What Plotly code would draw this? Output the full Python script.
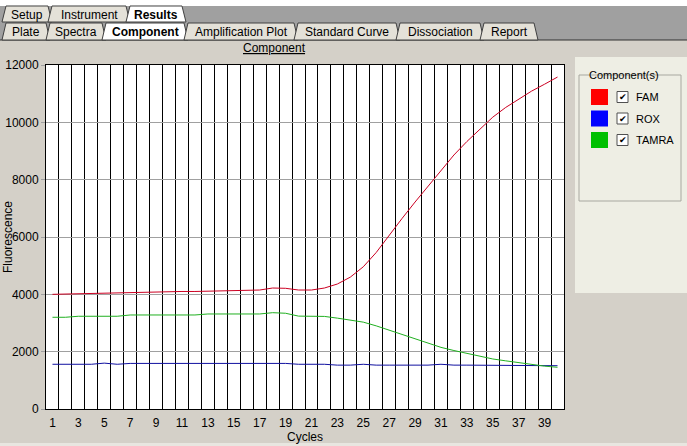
import plotly.graph_objects as go

# cycle numbers and component fluorescence
cycles = list(range(1, 41))
fam = [4000, 4010, 4030, 4040, 4040, 4050, 4070, 4070, 4100, 4100,
       4100, 4100, 4110, 4110, 4140, 4140, 4150, 4220, 4210, 4150,
       4150, 4220, 4360, 4600, 4960, 5460, 6070, 6650, 7220, 7770,
       8320, 8860, 9330, 9770, 10180, 10520, 10810, 11090, 11330, 11580]
rox = [1560, 1560, 1560, 1560, 1600, 1560, 1590, 1590, 1590, 1590,
       1590, 1590, 1590, 1590, 1590, 1590, 1590, 1590, 1590, 1560,
       1560, 1560, 1530, 1530, 1560, 1530, 1530, 1530, 1530, 1530,
       1560, 1530, 1530, 1530, 1530, 1530, 1530, 1530, 1530, 1510]
tamra = [3200, 3200, 3235, 3235, 3235, 3235, 3280, 3280, 3280, 3280,
         3280, 3280, 3315, 3315, 3315, 3315, 3315, 3360, 3340, 3240,
         3235, 3230, 3170, 3110, 3030, 2900, 2750, 2590, 2440, 2290,
         2150, 2040, 1940, 1830, 1745, 1680, 1610, 1550, 1495, 1455]

series_names = ["FAM", "ROX", "TAMRA"]
line_colors = ["#CC0022", "#1010A0", "#20B020"]
swatch_colors = ["#FF0000", "#0000FF", "#00C000"]

x_ticks = list(range(1, 40, 2))
y_ticks = list(range(0, 12001, 2000))
y_labels = [str(v) for v in y_ticks]
cell_edges = [c + 0.5 for c in range(1, 40)]

top_tabs = ["Setup", "Instrument", "Results"]
sub_tabs = ["Plate", "Spectra", "Component", "Amplification Plot",
            "Standard Curve", "Dissociation", "Report"]

W, H = 687, 446
L, R, T, B = 46, 564, 65, 409
FONT = "Liberation Sans"


def px(x):
    return (x - L) / (R - L)


def py(y):
    return (B - y) / (B - T)


fig = go.Figure()
for name, vals, col in zip(series_names, [fam, rox, tamra], line_colors):
    fig.add_trace(go.Scatter(x=cycles, y=vals, name=name, mode="lines",
                             line=dict(color=col, width=1)))

shapes = []
annots = []


def rect(x0, y0, x1, y1, fill, line=None, lw=1):
    shapes.append(dict(type="rect", xref="paper", yref="paper",
                       x0=px(x0), x1=px(x1), y0=py(y0), y1=py(y1),
                       fillcolor=fill, line=dict(color=line or fill, width=lw if line else 0),
                       layer="below"))


def text(x, y, s, size=12, bold=False, xanchor="center", color="black", angle=0):
    annots.append(dict(xref="paper", yref="paper", x=px(x), y=py(y), text=("<b>%s</b>" % s) if bold else s,
                       showarrow=False, xanchor=xanchor, yanchor="middle", textangle=angle,
                       font=dict(family=FONT, size=size, color=color)))


def tab(x0, x1, y0, y1, label, selected):
    inset = 4
    pts = [(x0, y1), (x0 + inset, y0), (x1 - inset, y0), (x1, y1)]
    path = "M " + " L ".join("%f,%f" % (px(a), py(b)) for a, b in pts) + " Z"
    shapes.append(dict(type="path", xref="paper", yref="paper", path=path,
                       fillcolor="white" if selected else "#E4E1D8",
                       line=dict(color="#404040", width=1)))
    text((x0 + x1) / 2, (y0 + y1) / 2 + 1, label, size=12, bold=selected)


# window chrome: tab rows
rect(0, 0, W, 6, "white")
rect(0, 6, W, 22, "#A0A0A0")
rect(0, 22, W, 40, "#A0A0A0")
shapes.append(dict(type="line", xref="paper", yref="paper", x0=px(0), x1=px(W),
                   y0=py(40), y1=py(40), line=dict(color="#303030", width=1)))

top_x = [(2, 52), (48, 130), (126, 186)]
for (a, b), lab in zip(top_x, top_tabs):
    tab(a, b, 6, 22, lab, lab == "Results")
sub_x = [(2, 50), (46, 106), (102, 188), (184, 298), (294, 400), (396, 484), (480, 538)]
for (a, b), lab in zip(sub_x, sub_tabs):
    tab(a, b, 23, 40, lab, lab == "Component")

text(274, 48, "<u>Component</u>", size=12)

# component legend panel
rect(575, 57, W, 293, "#EEEEE4")
shapes.append(dict(type="rect", xref="paper", yref="paper", x0=px(579), x1=px(681),
                   y0=py(75), y1=py(201), line=dict(color="#A8A8A0", width=1)))
rect(585, 68, 666, 82, "#EEEEE4")
text(587, 75, "Component(s)", size=11, xanchor="left")
for i, (name, sw) in enumerate(zip(series_names, swatch_colors)):
    yc = 97 + i * 21.5
    rect(591, yc - 8, 608, yc + 8, sw)
    shapes.append(dict(type="rect", xref="paper", yref="paper", x0=px(617), x1=px(628),
                       y0=py(yc - 5.5), y1=py(yc + 5.5), fillcolor="white",
                       line=dict(color="#505050", width=1)))
    text(622.5, yc, "✔", size=9)
    text(634, yc, name, size=11, xanchor="left")

text(8, 237, "Fluorescence", size=12, angle=-90)
rect(0, 443, W, H, "#E8E6E0")

fig.update_layout(
    width=W, height=H,
    margin=dict(l=L, r=W - R, t=T, b=H - B),
    paper_bgcolor="#D4D0C8",
    plot_bgcolor="white",
    showlegend=False,
    shapes=shapes,
    annotations=annots,
    font=dict(family=FONT, size=12, color="black"),
    xaxis=dict(range=[0.5, 40.5], tickvals=x_ticks, showgrid=False, zeroline=False,
               showline=True, linecolor="black", linewidth=1, mirror=True, automargin=False,
               ticks="outside", ticklen=3, tickcolor="rgba(0,0,0,0)",
               title=dict(text="Cycles", standoff=1, font=dict(size=12)),
               minor=dict(tickvals=cell_edges, showgrid=True, gridcolor="black", gridwidth=1, ticklen=0)),
    yaxis=dict(range=[0, 12000], tickvals=y_ticks, ticktext=y_labels, automargin=False,
               showgrid=True, gridcolor="#A0A0A0", gridwidth=1,
               zeroline=False, showline=True, linecolor="black", linewidth=1, mirror=True,
               ticks="outside", ticklen=4, tickcolor="#A0A0A0"),
)

fig.write_html("out.html", config={"displayModeBar": False},
               post_script="document.body.style.margin='0';document.body.style.overflow='hidden';")
